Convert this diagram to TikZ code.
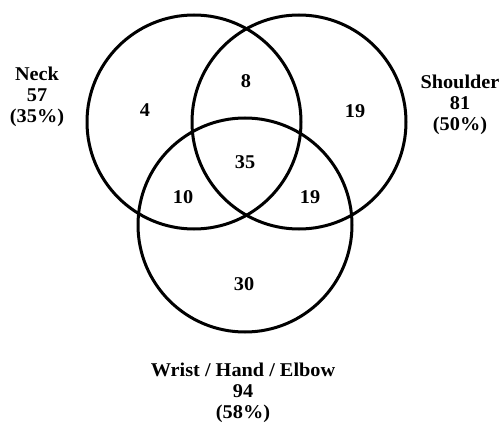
\documentclass[tikz,border=0pt]{standalone}
\usepackage{fontspec}
\setmainfont{Liberation Serif}
\begin{document}
\begin{tikzpicture}[x=1pt,y=-1pt,
  ring/.style={draw=black, line width=3pt},
  lab/.style={font=\fontsize{19.5}{21}\selectfont\bfseries, align=center, inner sep=0pt, xscale=1.04, transform shape},
  num/.style={font=\fontsize{19.5}{21}\selectfont\bfseries, inner sep=0pt, xscale=1.04, transform shape}]
\useasboundingbox (0,0) rectangle (501,425);
\draw[ring] (194,122) circle[radius=107];
\draw[ring] (299,122) circle[radius=107];
\draw[ring] (245,225) circle[radius=107];
\node[lab] (neck) at (37,97) {Neck\\57\\(35\%)};
\node[lab] (shoulder) at (460,105) {Shoulder\\81\\(50\%)};
\node[lab] (wrist) at (243,393) {Wrist / Hand / Elbow\\94\\(58\%)};
\node[num] (n4) at (145,110) {4};
\node[num] (n8) at (246,81) {8};
\node[num] (n19a) at (355,111) {19};
\node[num] (n35) at (245,162) {35};
\node[num] (n10) at (183,197) {10};
\node[num] (n19b) at (310,197) {19};
\node[num] (n30) at (244,284) {30};
\end{tikzpicture}
\end{document}
